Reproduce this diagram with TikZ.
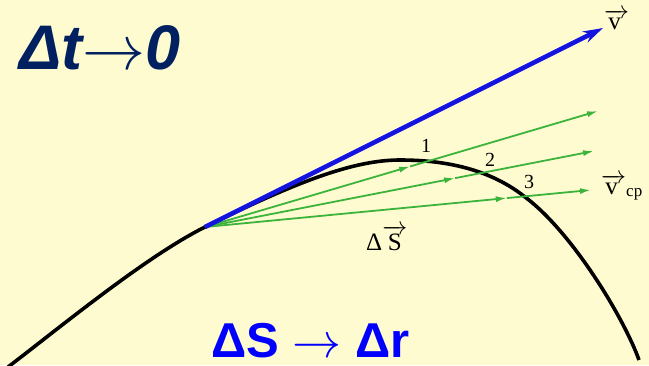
\RequirePackage{fix-cm}
\documentclass[tikz,border=0pt]{standalone}
\usepackage{fontspec}
\setmainfont{Liberation Serif}
\newfontfamily\headfont{Liberation Sans}
\usepackage{tikz}
\usetikzlibrary{arrows.meta,calc}

\definecolor{paper}{RGB}{255,251,208}
\definecolor{navy}{RGB}{0,32,96}
\definecolor{chordgreen}{RGB}{60,180,60}
\definecolor{velblue}{RGB}{20,20,225}

\tikzset{
  trajectory/.style={line width=3.6pt, black},
  velocity/.style={line width=4.5pt, velblue, -{Stealth[length=20pt,width=12pt]}},
  chord/.style={line width=1.8pt, chordgreen, -{Latex[length=11pt,width=6pt]}},
  tag/.style={inner sep=0pt, font=\fontsize{20}{20}\selectfont},
  vlabel/.style={inner sep=0pt, anchor=base west, font=\fontsize{25}{25}\selectfont}
}

\begin{document}
\begin{tikzpicture}[x=1pt,y=-1pt]

    % Background
    \path[use as bounding box, fill=paper] (0,0) rectangle (649,365);
    \clip (0,0) rectangle (649,365);

    % Points
    \coordinate (A)  at (205,227);
    \coordinate (top) at (400,160);
    \coordinate (c3) at (525,197);
    \coordinate (e1) at (598,111);
    \coordinate (e2) at (594,151);
    \coordinate (e3) at (591,190);
    \coordinate (tip) at (603,28);

    % Trajectory
    \draw[trajectory] (8,367) .. controls (58,329) and (145,257) .. (A)
        .. controls (300,180) and (355,160) .. (top)
        .. controls (445,160) and (490,169) .. (c3)
        .. controls (572,232) and (624,318) .. (639,360);

    % Chords
    \coordinate (m1) at ($(A)!0.522!(e1)$);
    \coordinate (m2) at ($(A)!0.643!(e2)$);
    \coordinate (m3) at ($(A)!0.782!(e3)$);
    \draw[chord] (A) -- (m1);
    \draw[chord] (m1) -- (e1);
    \draw[chord] (A) -- (m2);
    \draw[chord] (m2) -- (e2);
    \draw[chord] (A) -- (m3);
    \draw[chord] (m3) -- (e3);

    % Velocity
    \draw[velocity] (A) -- (tip);

    % Labels
    \node[tag] (n1) at (426,146) {1};
    \node[tag] (n2) at (490,160) {2};
    \node[tag] (n3) at (529,182) {3};
    \node[vlabel] (v) at (604,29) {$\overrightarrow{\mathrm{v}\,}$};
    \node[vlabel] (vcp) at (601,194) {$\overrightarrow{\mathrm{v}\,}$\raisebox{-2pt}{\fontsize{17}{17}\selectfont cp}};
    \node[vlabel] (ds) at (366,250) {Δ$\overrightarrow{\mathrm{S}}$};

    % Headings
    \node[anchor=base west, inner sep=0pt, navy, font=\fontsize{63}{63}\selectfont\headfont\bfseries\itshape]
        (title) at (19,69) {Δt$\rightarrow$0};
    \node[anchor=base west, inner sep=0pt, blue, font=\fontsize{49}{49}\selectfont\headfont\bfseries]
        (limit) at (211,357) {ΔS $\rightarrow$ Δr};
\end{tikzpicture}
\end{document}
